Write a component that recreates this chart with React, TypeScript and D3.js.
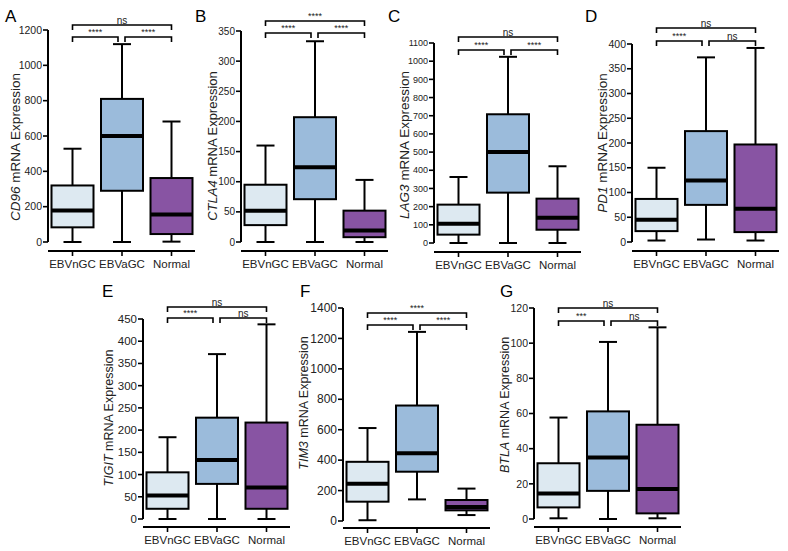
import React from "react";
import * as d3 from "d3";

const categories = ["EBVnGC", "EBVaGC", "Normal"];
const genes = ["CD96", "CTLA4", "LAG3", "PD1", "TIGIT", "TIM3", "BTLA"];
const letters = ["A", "B", "C", "D", "E", "F", "G"];

// five-number summaries [min, q1, median, q3, max] per category
const cd96Box = [[0, 83, 178, 320, 528], [0, 290, 600, 810, 1120], [2, 45, 155, 362, 682]];
const ctla4Box = [[0, 28, 52, 95, 160], [0, 71, 124, 207, 333], [0, 8, 19, 52, 103]];
const lag3Box = [[0, 46, 106, 211, 363], [0, 277, 501, 708, 1024], [0, 73, 139, 244, 422]];
const pd1Box = [[3, 22, 45, 87, 150], [5, 75, 124, 224, 373], [3, 20, 67, 197, 392]];
const tigitBox = [[0, 23, 53, 105, 184], [0, 79, 133, 228, 371], [0, 23, 71, 217, 438]];
const tim3Box = [[5, 127, 245, 389, 611], [142, 324, 445, 759, 1243], [39, 70, 92, 138, 213]];
const btlaBox = [[0.4, 6.6, 14.5, 31.7, 57.7], [0, 16, 35, 61.2, 100.7], [0.4, 3.2, 17.1, 53.6, 109]];

const cd96Ticks = [0, 200, 400, 600, 800, 1000, 1200];
const ctla4Ticks = [0, 50, 100, 150, 200, 250, 300, 350];
const lag3Ticks = [0, 100, 200, 300, 400, 500, 600, 700, 800, 900, 1000, 1100];
const pd1Ticks = [0, 50, 100, 150, 200, 250, 300, 350, 400];
const tigitTicks = [0, 50, 100, 150, 200, 250, 300, 350, 400, 450];
const tim3Ticks = [0, 200, 400, 600, 800, 1000, 1200, 1400];
const btlaTicks = [0, 20, 40, 60, 80, 100, 120];

// significance: [EBVnGC vs EBVaGC, EBVaGC vs Normal, EBVnGC vs Normal]
const cd96Sig = ["****", "****", "ns"];
const ctla4Sig = ["****", "****", "****"];
const lag3Sig = ["****", "****", "ns"];
const pd1Sig = ["****", "ns", "ns"];
const tigitSig = ["****", "ns", "ns"];
const tim3Sig = ["****", "****", "****"];
const btlaSig = ["***", "ns", "ns"];

const boxes = [cd96Box, ctla4Box, lag3Box, pd1Box, tigitBox, tim3Box, btlaBox];
const ticks = [cd96Ticks, ctla4Ticks, lag3Ticks, pd1Ticks, tigitTicks, tim3Ticks, btlaTicks];
const sigs = [cd96Sig, ctla4Sig, lag3Sig, pd1Sig, tigitSig, tim3Sig, btlaSig];

const colors = ["#dde9f1", "#9bbbdb", "#8854a3"];

// layout (pixel geometry)
const layout = [
  { ax: 48, yTop: 30, y0: 242, xAxisY: 251, letterX: 5, letterY: 22, titleX: 15, titleY: 147, titleSize: 13.5, tickSize: 10.5, brTop: 25, brLow: 37 },
  { ax: 241, yTop: 31, y0: 242, xAxisY: 251, letterX: 195, letterY: 22, titleX: 212, titleY: 146, titleSize: 13, tickSize: 10, brTop: 21, brLow: 33 },
  { ax: 434, yTop: 43, y0: 243, xAxisY: 252, letterX: 388, letterY: 22, titleX: 404, titleY: 145, titleSize: 13.5, tickSize: 9, brTop: 37, brLow: 50 },
  { ax: 632, yTop: 44, y0: 242, xAxisY: 251, letterX: 585, letterY: 22, titleX: 602, titleY: 143, titleSize: 13.5, tickSize: 10.5, brTop: 28, brLow: 41 },
  { ax: 143, yTop: 319, y0: 519, xAxisY: 527, letterX: 102, letterY: 297, titleX: 109, titleY: 418, titleSize: 12.5, tickSize: 11.5, brTop: 307, brLow: 318 },
  { ax: 343, yTop: 308, y0: 521, xAxisY: 528, letterX: 300, letterY: 297, titleX: 304, titleY: 403, titleSize: 12.5, tickSize: 12, brTop: 313, brLow: 325 },
  { ax: 534, yTop: 308, y0: 519, xAxisY: 527, letterX: 500, letterY: 297, titleX: 505, titleY: 405, titleSize: 12.5, tickSize: 10.5, brTop: 308, brLow: 321 },
];

const FONT = "'Liberation Sans', Arial, Helvetica, sans-serif";

function Panel({ i }: { i: number }) {
  const L = layout[i];
  const data = boxes[i];
  const tk = ticks[i];
  const sig = sigs[i];
  const y = d3.scaleLinear().domain([0, tk[tk.length - 1]]).range([L.y0, L.yTop]);
  const x = d3.scalePoint<string>().domain(categories).range([L.ax + 24.5, L.ax + 123.5]);
  const bw = 42;
  const cap = 18;
  const xs = categories.map((c) => x(c) as number);
  const bracket = (x1: number, x2: number, yy: number, label: string, key: string) => {
    const isNs = label === "ns";
    return (
      <g key={key}>
        <path d={`M${x1},${yy + 5}V${yy}H${x2}V${yy + 5}`} fill="none" stroke="#000" strokeWidth={1.6} />
        <text
          x={(x1 + x2) / 2}
          y={isNs ? yy - 1.5 : yy - 2}
          textAnchor="middle"
          fontSize={isNs ? 10 : 9}
          fontFamily={FONT}
          fill="#222"
        >
          {label}
        </text>
      </g>
    );
  };
  return (
    <g>
      <text x={L.letterX} y={L.letterY} fontSize={17} fontFamily={FONT} fill="#000">
        {letters[i]}
      </text>
      {/* y axis */}
      <line x1={L.ax} x2={L.ax} y1={y(tk[tk.length - 1])} y2={y(0)} stroke="#000" strokeWidth={2} />
      {tk.map((t) => (
        <g key={t}>
          <line x1={L.ax - 5} x2={L.ax} y1={y(t)} y2={y(t)} stroke="#000" strokeWidth={1.6} />
          <text
            x={L.ax - 6}
            y={y(t)}
            dy="0.35em"
            textAnchor="end"
            fontSize={L.tickSize}
            fontFamily={FONT}
            fill="#222"
          >
            {t}
          </text>
        </g>
      ))}
      <text
        transform={`translate(${L.titleX},${L.titleY}) rotate(-90)`}
        textAnchor="middle"
        dy="0.35em"
        fontSize={L.titleSize}
        fontFamily={FONT}
        fill="#222"
      >
        <tspan fontStyle="italic">{genes[i]}</tspan> mRNA Expression
      </text>
      {/* x axis */}
      <line x1={L.ax} x2={L.ax + 147} y1={L.xAxisY} y2={L.xAxisY} stroke="#000" strokeWidth={2} />
      {categories.map((c, j) => (
        <g key={c}>
          <line x1={xs[j]} x2={xs[j]} y1={L.xAxisY} y2={L.xAxisY + 5} stroke="#000" strokeWidth={1.6} />
          <text
            x={xs[j]}
            y={L.xAxisY + 17}
            textAnchor="middle"
            fontSize={11.5}
            fontFamily={FONT}
            fill="#222"
          >
            {c}
          </text>
        </g>
      ))}
      {/* boxes */}
      {data.map((d, j) => {
        const cx = xs[j];
        const [mn, q1, med, q3, mx] = d;
        return (
          <g key={j}>
            <line x1={cx} x2={cx} y1={y(mx)} y2={y(q3)} stroke="#000" strokeWidth={2} />
            <line x1={cx} x2={cx} y1={y(q1)} y2={y(mn)} stroke="#000" strokeWidth={2} />
            <line x1={cx - cap / 2} x2={cx + cap / 2} y1={y(mx)} y2={y(mx)} stroke="#000" strokeWidth={2} />
            <line x1={cx - cap / 2} x2={cx + cap / 2} y1={y(mn)} y2={y(mn)} stroke="#000" strokeWidth={2} />
            <rect
              x={cx - bw / 2}
              y={y(q3)}
              width={bw}
              height={y(q1) - y(q3)}
              fill={colors[j]}
              stroke="#000"
              strokeWidth={2}
            />
            <line x1={cx - bw / 2} x2={cx + bw / 2} y1={y(med)} y2={y(med)} stroke="#000" strokeWidth={4} />
          </g>
        );
      })}
      {/* significance brackets */}
      {bracket(xs[0], xs[1] - 4, L.brLow, sig[0], "s0")}
      {bracket(xs[1] + 3, xs[2], L.brLow, sig[1], "s1")}
      {bracket(xs[0], xs[2], L.brTop, sig[2], "s2")}
    </g>
  );
}

export default function App() {
  return (
    <svg width={788} height={551} style={{ position: "absolute", left: 0, top: 0, background: "#fff" }}>
      <rect width={788} height={551} fill="#fff" />
      {layout.map((_, i) => (
        <Panel key={i} i={i} />
      ))}
    </svg>
  );
}
